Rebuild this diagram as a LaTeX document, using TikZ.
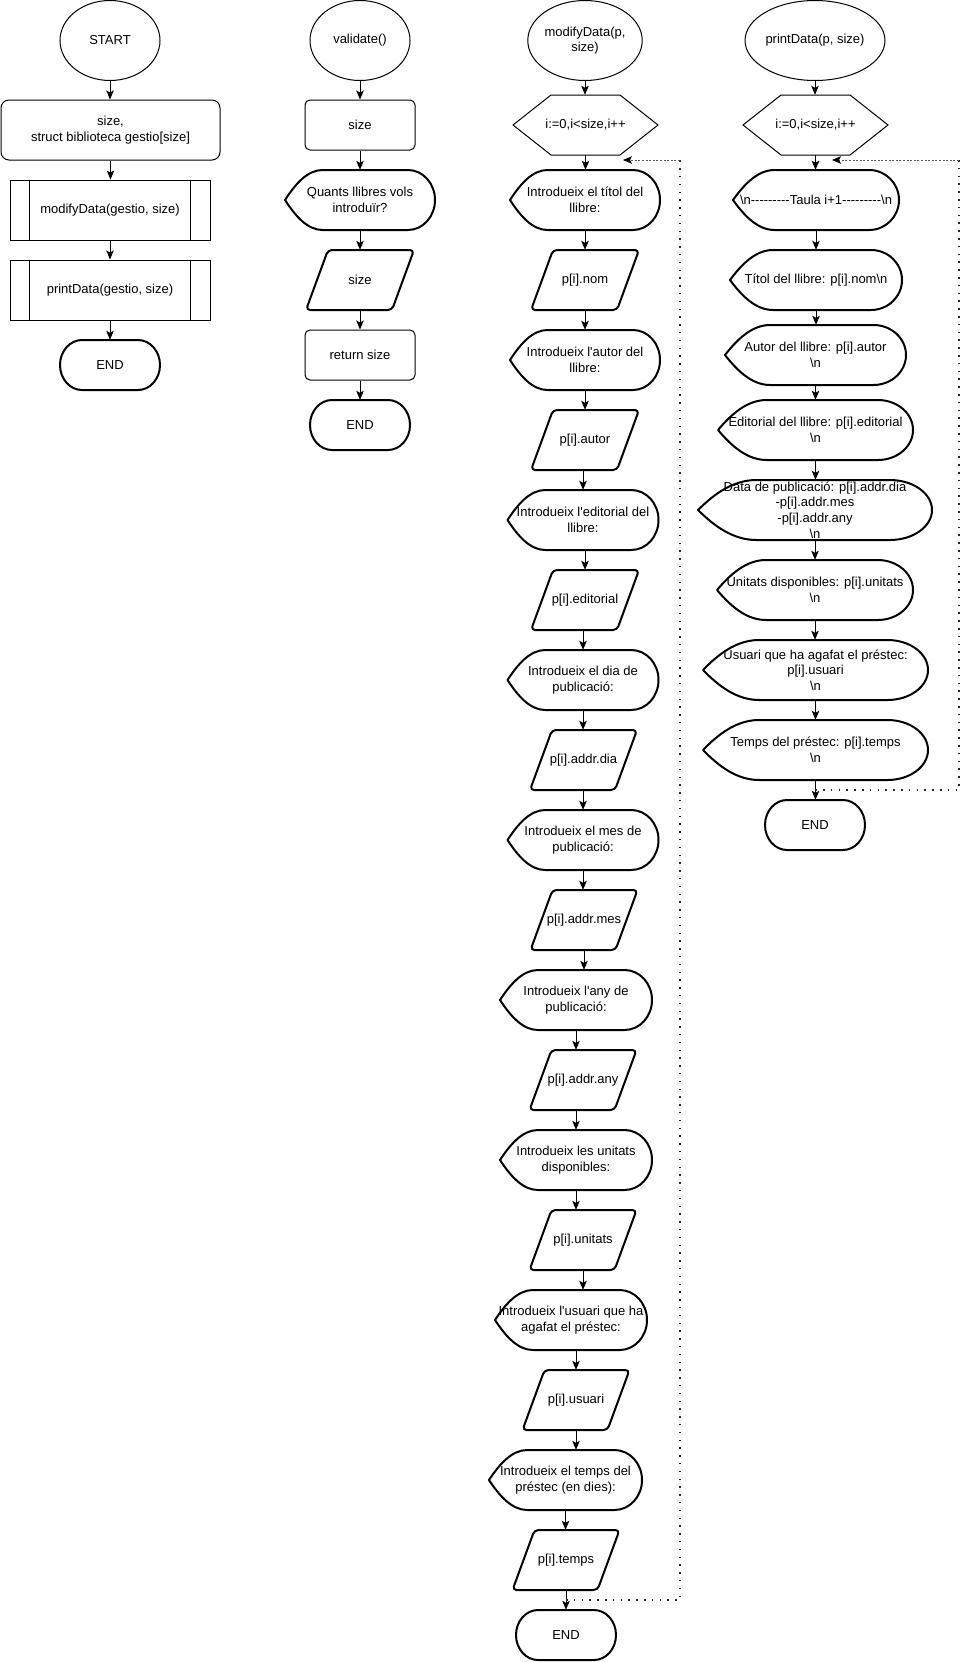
\documentclass[tikz,border=0pt]{standalone}
\usepackage{fontspec}
\newfontfamily\lsans{Liberation Sans}
\usetikzlibrary{shapes.geometric,arrows.meta,calc}

\tikzset{
 txt/.style={font=\lsans\fontsize{13pt}{15.6pt}\selectfont, align=center, inner sep=0pt, text=black},
 thn/.style={line width=1pt},
 thk/.style={line width=2pt, line join=round},
 arr/.style={line width=1pt, -{Stealth[length=9pt,width=7.5pt,inset=2pt]}},
 ell/.style={txt, draw, thn, ellipse, inner sep=0pt},
 rbox/.style={txt, draw, thn, rounded corners=#1},
 subp/.style={txt, draw, thn, minimum width=200pt, minimum height=60pt},
 dotl/.style={line width=1.4pt, dash pattern=on 1.5pt off 6.3pt, draw=black!85},
 dashl/.style={line width=0.9pt, dash pattern=on 2pt off 1.6pt, draw=black!65},
 looparr/.style={-{Stealth[length=9pt,width=7.5pt,inset=2pt,color=black]}},
}

% display shape: name, cx, cy, w, h, text
\newcommand\dispnode[6]{%
 \pgfmathsetmacro\myxa{#2-#4/2}\pgfmathsetmacro\myxb{#2+#4/2}%
 \pgfmathsetmacro\myya{#3-#5/2}\pgfmathsetmacro\myyb{#3+#5/2}%
 \pgfmathsetmacro\myxl{\myxa+0.25*#4}%
 \pgfmathsetmacro\myxlc{\myxa+0.15*#4}%
 \pgfmathsetmacro\myxtc{\myxa+0.07*#4}%
 \pgfmathsetmacro\myytc{#3-0.27*#5}%
 \pgfmathsetmacro\myybc{#3+0.27*#5}%
 \pgfmathsetmacro\myxr{\myxb-0.18*#4}%
 \pgfmathsetmacro\myxrc{\myxb-0.18*0.448*#4}%
 \pgfmathsetmacro\myyrt{#3-0.276*#5}%
 \pgfmathsetmacro\myyrb{#3+0.276*#5}%
 \draw[thk] (\myxa,#3) .. controls (\myxtc,\myytc) and (\myxlc,\myya) .. (\myxl,\myya)
   -- (\myxr,\myya) .. controls (\myxrc,\myya) and (\myxb,\myyrt) .. (\myxb,#3)
   .. controls (\myxb,\myyrb) and (\myxrc,\myyb) .. (\myxr,\myyb)
   -- (\myxl,\myyb) .. controls (\myxlc,\myyb) and (\myxtc,\myybc) .. (\myxa,#3) -- cycle;
 \node[txt, minimum width=#4pt, minimum height=#5pt] (#1) at (#2,#3) {#6};
}

% data (parallelogram) shape: name, cx, cy, w, h, text
\newcommand\datanode[6]{%
 \pgfmathsetmacro\myxa{#2-#4/2}\pgfmathsetmacro\myxb{#2+#4/2}%
 \pgfmathsetmacro\myya{#3-#5/2}\pgfmathsetmacro\myyb{#3+#5/2}%
 \draw[thk, rounded corners=4pt] ({#2+11},\myya) -- (\myxb,\myya) -- ({\myxb-22},\myyb)
   -- (\myxa,\myyb) -- ({\myxa+22},\myya) -- cycle;
 \node[txt, minimum width=#4pt, minimum height=#5pt] (#1) at (#2,#3) {#6};
}

% hexagon: name, cx, cy, w, h, text
\newcommand\hexnode[6]{%
 \pgfmathsetmacro\myxa{#2-#4/2}\pgfmathsetmacro\myxb{#2+#4/2}%
 \pgfmathsetmacro\myya{#3-#5/2}\pgfmathsetmacro\myyb{#3+#5/2}%
 \draw[thn] (\myxa,#3) -- ({\myxa+38},\myya) -- ({\myxb-38},\myya) -- (\myxb,#3)
   -- ({\myxb-38},\myyb) -- ({\myxa+38},\myyb) -- cycle;
 \node[txt, minimum width=#4pt, minimum height=#5pt] (#1) at (#2,#3) {#6};
}

% terminator: name, cx, cy, text  (100 x 50)
\newcommand\termnode[4]{%
 \pgfmathsetmacro\myxa{#2-50}\pgfmathsetmacro\myxb{#2+50}%
 \pgfmathsetmacro\myya{#3-25}\pgfmathsetmacro\myyb{#3+25}%
 \draw[thk] ({#2-28},\myya) -- ({#2+28},\myya)
   .. controls ({#2+40.1},\myya) and (\myxb,{#3-13.8}) .. (\myxb,#3)
   .. controls (\myxb,{#3+13.8}) and ({#2+40.1},\myyb) .. ({#2+28},\myyb)
   -- ({#2-28},\myyb)
   .. controls ({#2-40.1},\myyb) and (\myxa,{#3+13.8}) .. (\myxa,#3)
   .. controls (\myxa,{#3-13.8}) and ({#2-40.1},\myya) .. ({#2-28},\myya) -- cycle;
 \node[txt, minimum width=100pt, minimum height=50pt] (#1) at (#2,#3) {#4};
}

\newcommand\vsrc[2]{\draw[arr] (#1.south) -- (#1.south |- #2.north);}
\newcommand\vtgt[2]{\draw[arr] (#1.south -| #2.north) -- (#2.north);}

\begin{document}
\begin{tikzpicture}[x=1pt,y=-1pt]
\useasboundingbox (0,0) rectangle (969,1662);
\fill[white] (0,0) rectangle (969,1662);

% ---------- column 1 ----------
\node[ell, minimum width=100pt, minimum height=80pt] (start) at (110,40.5) {START};
\node[rbox=8pt, minimum width=219pt, minimum height=60pt] (decl) at (110.5,130) {size,\\struct biblioteca gestio[size]};
\node[subp] (sub1) at (110,210) {modifyData(gestio, size)};
\draw[thn] ($(sub1.north west)+(20,0)$) -- ($(sub1.south west)+(20,0)$);
\draw[thn] ($(sub1.north east)+(-20,0)$) -- ($(sub1.south east)+(-20,0)$);
\node[subp] (sub2) at (110,290) {printData(gestio, size)};
\draw[thn] ($(sub2.north west)+(20,0)$) -- ($(sub2.south west)+(20,0)$);
\draw[thn] ($(sub2.north east)+(-20,0)$) -- ($(sub2.south east)+(-20,0)$);
\termnode{end1}{110}{365}{END}
\vsrc{start}{decl}
\vsrc{decl}{sub1}
\vsrc{sub1}{sub2}
\vsrc{sub2}{end1}

% ---------- column 2 ----------
\node[ell, minimum width=100pt, minimum height=80pt] (val) at (360,40.5) {validate()};
\node[rbox=5pt, minimum width=110pt, minimum height=50pt] (size1) at (360,125) {size};
\dispnode{quants}{360}{200}{150}{60}{Quants llibres vols\\introduïr?}
\datanode{size2}{360}{280}{108}{60}{size}
\node[rbox=5pt, minimum width=110pt, minimum height=50pt] (ret) at (360,355) {return size};
\termnode{end2}{360}{425}{END}
\vsrc{val}{size1}
\vsrc{size1}{quants}
\vsrc{quants}{size2}
\vsrc{size2}{ret}
\vsrc{ret}{end2}

% ---------- column 3 ----------
\node[ell, minimum width=110pt, minimum height=80pt] (mod) at (585,40.5) {modifyData(p,\\size)};
\hexnode{hex3}{585.5}{125}{145}{60}{i:=0,i<size,i++}
\dispnode{d1}{585}{200}{150}{60}{Introdueix el títol del\\llibre:}
\datanode{p1}{585}{280}{108}{60}{p[i].nom}
\dispnode{d2}{585}{360}{150}{60}{Introdueix l'autor del\\llibre:}
\datanode{p2}{585}{440}{108}{60}{p[i].autor}
\dispnode{d3}{583}{520}{151}{60}{Introdueix l'editorial del\\llibre:}
\datanode{p3}{585}{600}{108}{60}{p[i].editorial}
\dispnode{d4}{583}{680}{151}{60}{Introdueix el dia de\\publicació:}
\datanode{p4}{583.5}{760}{107}{60}{p[i].addr.dia}
\dispnode{d5}{583}{840}{151}{60}{Introdueix el mes de\\publicació:}
\datanode{p5}{584}{920}{107}{60}{p[i].addr.mes}
\dispnode{d6}{576}{1000}{152}{60}{Introdueix l'any de\\publicació:}
\datanode{p6}{583}{1080}{107}{60}{p[i].addr.any}
\dispnode{d7}{576}{1160}{152}{60}{Introdueix les unitats\\disponibles:}
\datanode{p7}{583}{1240}{107}{60}{p[i].unitats}
\dispnode{d8}{571}{1320}{152}{60}{Introdueix l'usuari que ha\\agafat el préstec:}
\datanode{p8}{576}{1400}{107}{60}{p[i].usuari}
\dispnode{d9}{565.5}{1480}{153}{60}{Introdueix el temps del\\préstec (en dies):}
\datanode{p9}{566}{1560}{107}{60}{p[i].temps}
\termnode{end3}{566}{1635}{END}
\vsrc{mod}{hex3}
\vsrc{hex3}{d1}
\vsrc{d1}{p1}
\vsrc{p1}{d2}
\vsrc{d2}{p2}
\vtgt{p2}{d3}
\vtgt{d3}{p3}
\vtgt{p3}{d4}
\vsrc{d4}{p4}
\vtgt{p4}{d5}
\vsrc{d5}{p5}
\vsrc{p5}{d6}
\vsrc{d6}{p6}
\vtgt{p6}{d7}
\vsrc{d7}{p7}
\vsrc{p7}{d8}
\vtgt{d8}{p8}
\vsrc{p8}{d9}
\vsrc{d9}{p9}
\vsrc{p9}{end3}
\coordinate (m3) at ($(p9.south)!0.5!(end3.north)$);
\coordinate (r3) at (680,160);
\coordinate (t3) at (623,160);
\draw[dotl] (m3) -| (r3);
\draw[dashl, looparr] (r3) -- (t3);

% ---------- column 4 ----------
\node[ell, minimum width=110pt, minimum height=80pt] (prt) at (815,40.5) {printData(p, size)};
\hexnode{hex4}{815.5}{125}{145}{60}{i:=0,i<size,i++}
\dispnode{q1}{816}{200}{166}{60}{\textbackslash n---------Taula i+1---------\textbackslash n}
\dispnode{q2}{816}{280}{172}{60}{Títol del llibre: p[i].nom\textbackslash n}
\dispnode{q3}{815.5}{355}{181}{60}{Autor del llibre: p[i].autor\\\textbackslash n}
\dispnode{q4}{815.5}{430}{195}{60}{Editorial del llibre: p[i].editorial\\\textbackslash n}
\dispnode{q5}{815}{510}{234}{60}{Data de publicació: p[i].addr.dia\\-p[i].addr.mes\\-p[i].addr.any\\\textbackslash n}
\dispnode{q6}{815}{590}{196}{60}{Unitats disponibles: p[i].unitats\\\textbackslash n}
\dispnode{q7}{815.5}{670}{225}{60}{Usuari que ha agafat el préstec:\\p[i].usuari\\\textbackslash n}
\dispnode{q8}{815.5}{750}{225}{60}{Temps del préstec: p[i].temps\\\textbackslash n}
\termnode{end4}{815}{825}{END}
\vsrc{prt}{hex4}
\vsrc{hex4}{q1}
\vsrc{q1}{q2}
\vsrc{q2}{q3}
\vsrc{q3}{q4}
\vsrc{q4}{q5}
\vsrc{q5}{q6}
\vsrc{q6}{q7}
\vsrc{q7}{q8}
\vsrc{q8}{end4}
\coordinate (m4) at ($(q8.south)!0.5!(end4.north)$);
\coordinate (r4) at (959,160);
\coordinate (t4) at (832,160);
\draw[dotl] (m4) -| (r4);
\draw[dashl, looparr] (r4) -- (t4);
\end{tikzpicture}
\end{document}
